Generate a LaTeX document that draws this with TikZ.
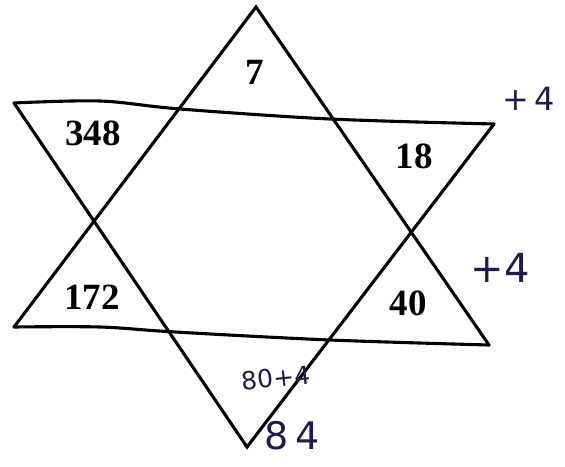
\documentclass[tikz,border=0pt]{standalone}
\usepackage{fontspec}
\setmainfont{Liberation Serif}
\newfontfamily\handfont{DejaVu Sans}
\definecolor{ink}{HTML}{241A45}
\tikzset{
  edge/.style={line width=3.1pt, line join=miter, line cap=round},
  num/.style={font=\fontsize{37}{37}\selectfont\bfseries, inner sep=0pt},
  hand/.style={font=\handfont\fontsize{30}{30}\selectfont, text=ink, inner sep=0pt},
}
\begin{document}
\begin{tikzpicture}[x=1pt,y=-1pt]
\useasboundingbox (0,0) rectangle (565,466);
% corners
\coordinate (A) at (256,7);
\coordinate (B) at (14,103);
\coordinate (C) at (494,124);
\coordinate (D) at (247,447);
\coordinate (E) at (14,327);
\coordinate (F) at (489,345);
% wavy edge points
\coordinate (t1) at (100,101);
\coordinate (t2) at (180,109);
\coordinate (t3) at (330,119);
\coordinate (b1) at (100,327);
\coordinate (b2) at (175,332);
\coordinate (b3) at (330,340);
% upward triangle
\draw[edge] (E) -- (A) -- (F);
\draw[edge] plot[smooth, tension=0.55] coordinates {(E) (b1) (b2) (b3) (F)};
% downward triangle
\draw[edge] (B) -- (D) -- (C);
\draw[edge] plot[smooth, tension=0.55] coordinates {(B) (t1) (t2) (t3) (C)};
% numbers
\node[num] (n7) at (255,72) {7};
\node[num] (n348) at (93,133) {348};
\node[num] (n18) at (414,156) {18};
\node[num] (n172) at (92,297) {172};
\node[num] (n40) at (408,303) {40};
% handwritten notes
\node[hand, font=\handfont\fontsize{32}{32}\selectfont, anchor=west] (h1) at (502,99) {+\,4};
\node[hand, font=\handfont\fontsize{40}{40}\selectfont] (h2) at (500,268) {+4};
\node[hand, font=\handfont\fontsize{25}{25}\selectfont, rotate=6] (h3) at (276,378) {80+4};
\node[hand, font=\handfont\fontsize{38}{38}\selectfont] (h4) at (292,436) {8\,4};
\end{tikzpicture}
\end{document}
